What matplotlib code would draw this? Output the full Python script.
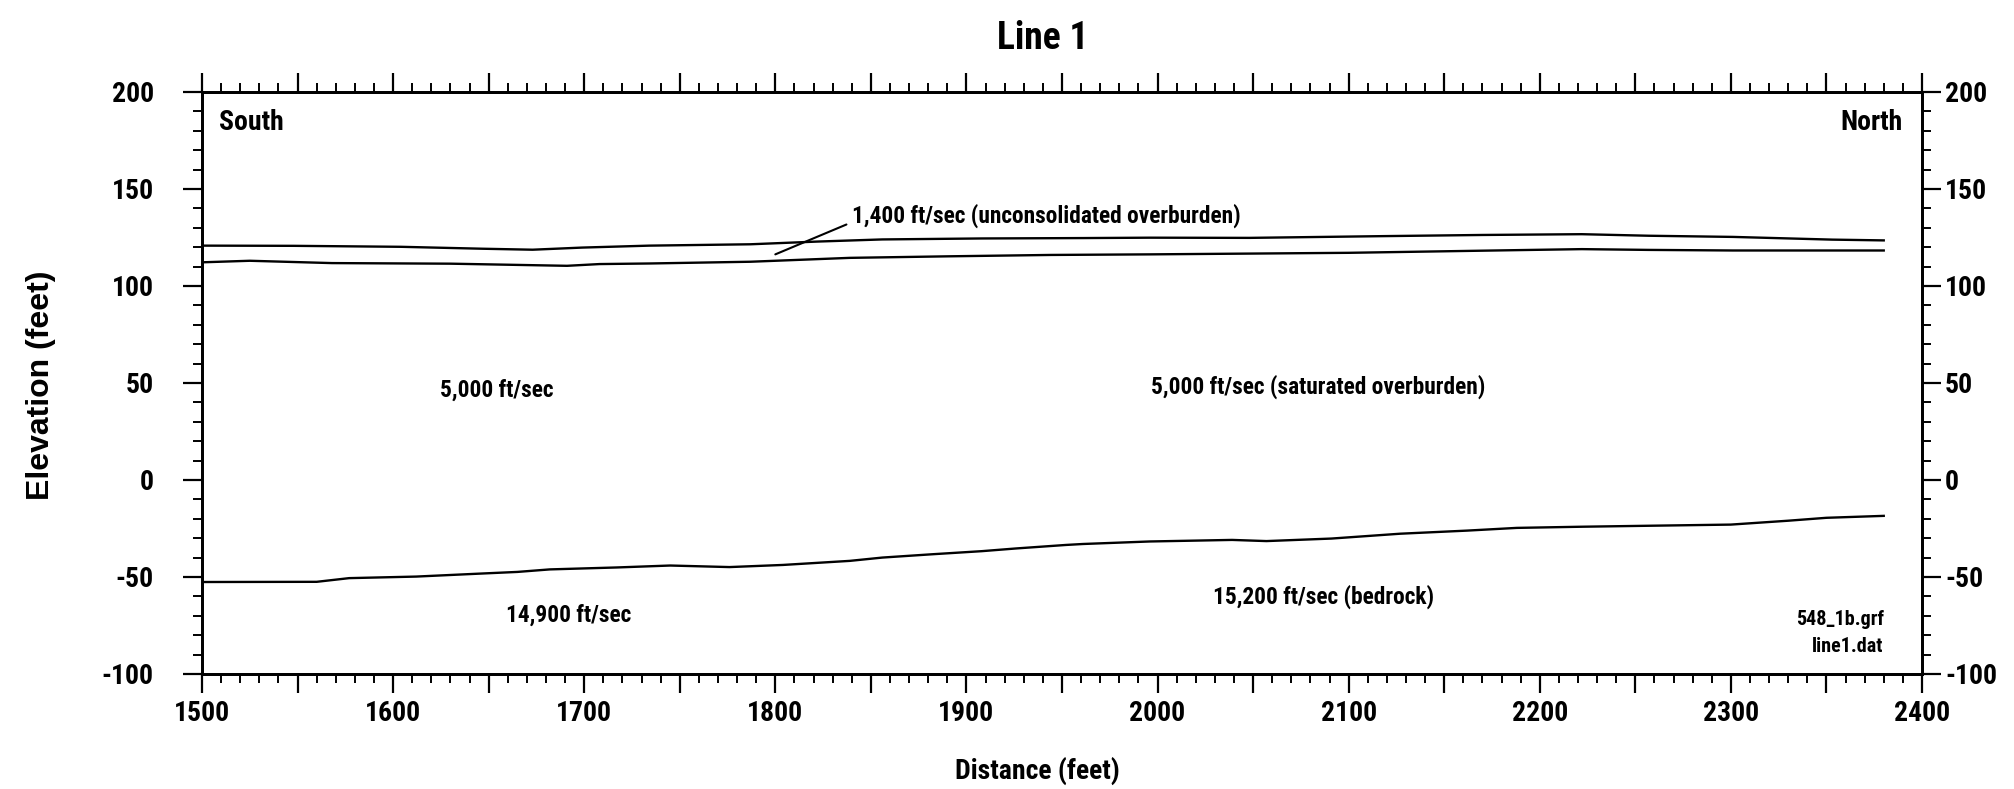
import matplotlib
matplotlib.use('Agg')
import matplotlib.pyplot as plt
from matplotlib import font_manager
from matplotlib.ticker import MultipleLocator, FuncFormatter

# Seismic refraction section, Line 1 (distance in feet, elevation in feet)
top_dist = [1500, 1548, 1604, 1647, 1673, 1699, 1734, 1787, 1822, 1856, 1908,
            1961, 1996, 2048, 2118, 2170, 2222, 2257, 2301, 2353, 2380]
top_elev = [120.8, 120.7, 120.2, 119.2, 118.7, 119.8, 120.8, 121.5, 122.9, 124.0, 124.5,
            124.7, 124.9, 124.8, 125.7, 126.3, 126.7, 125.9, 125.3, 123.9, 123.5]

water_dist = [1500, 1525, 1568, 1630, 1691, 1708, 1734, 1787, 1839, 1891, 1944,
              1996, 2100, 2170, 2222, 2257, 2301, 2380]
water_elev = [112.2, 113.0, 111.8, 111.5, 110.4, 111.3, 111.6, 112.5, 114.5, 115.3, 116.0,
              116.3, 117.1, 118.2, 119.0, 118.6, 118.3, 118.3]

rock_dist = [1500, 1560, 1577, 1612, 1647, 1665, 1682, 1717, 1745, 1776, 1804, 1839,
             1856, 1882, 1908, 1926, 1952, 1961, 1996, 2039, 2057, 2091, 2127, 2162,
             2188, 2222, 2257, 2300, 2330, 2350, 2380]
rock_elev = [-52.6, -52.5, -50.6, -49.8, -48.2, -47.4, -46.1, -45.1, -44.1, -44.9, -43.8, -41.7,
             -40.0, -38.3, -36.7, -35.3, -33.5, -33.0, -31.7, -30.9, -31.5, -30.2, -27.7, -26.1,
             -24.7, -24.1, -23.6, -23.0, -21.0, -19.5, -18.5]

# layer labels: text, x, y, horizontal alignment
layer_labels = [
    ('South', 1509, 184.5, 'left'),
    ('North', 2390, 184.5, 'right'),
    ('5,000 ft/sec', 1654, 46, 'center'),
    ('5,000 ft/sec (saturated overburden)', 2084, 48, 'center'),
    ('14,900 ft/sec', 1692, -69.5, 'center'),
    ('15,200 ft/sec (bedrock)', 2087, -60, 'center'),
]
note_text = '1,400 ft/sec (unconsolidated overburden)'
note_xy = (1800, 116.3)
note_text_xy = (1840, 136)
file_labels = [('548_1b.grf', -72), ('line1.dat', -86)]


def pick_narrow():
    # look for a condensed sans face, fall back to Arial metrics
    fonts = font_manager.fontManager.ttflist
    names = {f.name for f in fonts}
    for n in ['Liberation Sans Narrow', 'Arial Narrow', 'Roboto Condensed', 'Open Sans Condensed']:
        if n in names:
            return n, 'normal', 1.0
    for f in fonts:
        if f.name == 'DejaVu Sans' and str(f.stretch) in ('condensed', '400', 'semi-condensed'):
            return 'DejaVu Sans', 'condensed', 0.95
    return 'Liberation Sans', 'normal', 0.9


FAMILY, STRETCH, K = pick_narrow()
plt.rcParams['font.family'] = [FAMILY, 'DejaVu Sans']
plt.rcParams['font.stretch'] = STRETCH
plt.rcParams['font.weight'] = 'bold'
plt.rcParams['axes.unicode_minus'] = False

fig = plt.figure(figsize=(20.14, 7.89), dpi=100)
ax = fig.add_axes([0.1003, 0.1458, 0.854, 0.7376])

for d, e in [(top_dist, top_elev), (water_dist, water_elev), (rock_dist, rock_elev)]:
    ax.plot(d, e, color='black', lw=1.7)

ax.set_xlim(1500, 2400)
ax.set_ylim(-100, 200)

ax.xaxis.set_major_locator(MultipleLocator(50))
ax.xaxis.set_minor_locator(MultipleLocator(10))
ax.xaxis.set_major_formatter(FuncFormatter(lambda v, p: '%d' % v if v % 100 == 0 else ''))
ax.yaxis.set_major_locator(MultipleLocator(50))
ax.yaxis.set_minor_locator(MultipleLocator(10))

ax.tick_params(axis='x', which='both', direction='out', top=True, bottom=True)
ax.tick_params(axis='both', which='major', length=13.7, width=1.6, labelsize=20 * K)
ax.tick_params(axis='both', which='minor', length=6.5, width=1.4)
ax.tick_params(axis='x', which='major', pad=5)
ax.tick_params(axis='y', which='major', pad=21)
for s in ax.spines.values():
    s.set_linewidth(2)

ax2 = ax.twinx()
ax2.set_ylim(-100, 200)
ax2.yaxis.set_major_locator(MultipleLocator(50))
ax2.yaxis.set_minor_locator(MultipleLocator(10))
ax2.tick_params(axis='y', which='major', length=13.7, width=1.6, labelsize=20 * K, pad=3)
ax2.tick_params(axis='y', which='minor', length=6.5, width=1.4)
for s in ax2.spines.values():
    s.set_linewidth(2)

for txt, x, y, ha in layer_labels:
    size = 20 if txt in ('South', 'North') else 16.8
    ax.text(x, y, txt, ha=ha, va='center', fontsize=size * K)

ax.annotate(note_text, xy=note_xy, xytext=note_text_xy, fontsize=16.8 * K, va='center', ha='left',
            arrowprops=dict(arrowstyle='-', color='black', lw=1.5, shrinkA=2, shrinkB=0,
                            relpos=(0, 0.25)))

for txt, y in file_labels:
    ax.text(2380, y, txt, ha='right', va='center', fontsize=14.5 * K)

fig.text(1043 / 2014, 1 - 38.5 / 789, 'Line 1', fontsize=27 * K, ha='center', va='center',
         fontweight='bold')
ax.set_xlabel('Distance (feet)', fontsize=20 * K, fontweight='bold', va='center')
ax.xaxis.set_label_coords(0.486, -0.1667)
ylab_font = font_manager.FontProperties(family=['Liberation Sans', 'DejaVu Sans'],
                                        weight='bold', stretch='normal', size=23)
ax.set_ylabel('Elevation (feet)', fontproperties=ylab_font, va='center')
ax.yaxis.set_label_coords(-0.0936, 0.4966)

fig.savefig('out.png', dpi=100)
